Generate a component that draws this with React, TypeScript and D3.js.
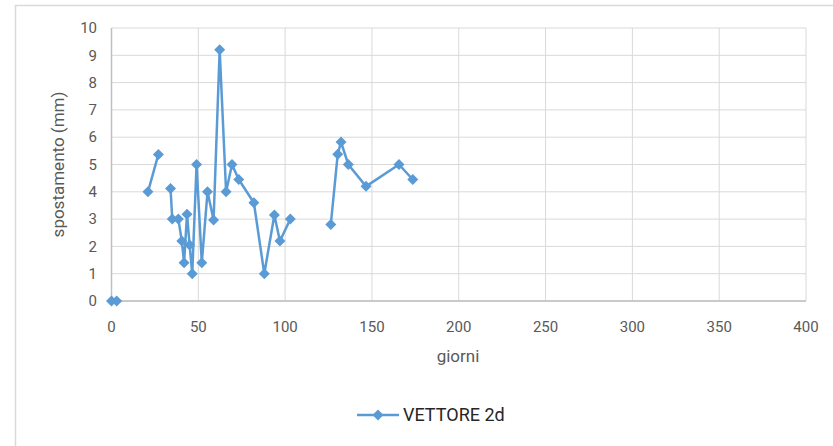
import React from 'react';
import * as d3 from 'd3';

// giorni / spostamento (mm); null = gap in the series
const giorni: (number | null)[] = [0, 3, null, 21, 27, null, 34, 35, 38.5, 40.5, 41.8, 43.5, 45, 46.5, 49, 52, 55.3, 58.8, 62.3, 66, 69.4, 73.3, 82, 88, 93.8, 97, 103, null, 126.3, 130.3, 132.2, 136.4, 146.6, 165.6, 173.5];
const spostamento: (number | null)[] = [0, 0, null, 4, 5.37, null, 4.12, 3, 3, 2.2, 1.4, 3.18, 2.05, 1, 5, 1.4, 4, 2.97, 9.2, 4, 5, 4.45, 3.6, 1, 3.15, 2.2, 3, null, 2.8, 5.38, 5.82, 5, 4.2, 5, 4.45];
const xTicks = [0, 50, 100, 150, 200, 250, 300, 350, 400];
const yTicks = [0, 1, 2, 3, 4, 5, 6, 7, 8, 9, 10];
const seriesName = 'VETTORE 2d';

const W = 833;
const H = 446;
const FONT = 'Roboto, "Liberation Sans", sans-serif';
const BLUE = '#5b9bd5';
const R = 5.5; // marker half-diagonal

export default function App() {
    const x = d3.scaleLinear().domain([0, 400]).range([111.5, 806]);
    const y = d3.scaleLinear().domain([0, 10]).range([301, 28]);

    const pts = giorni.map((g, i) => ({ g, s: spostamento[i] }));
    const line = d3.line<{ g: number | null; s: number | null }>()
        .defined(d => d.g !== null && d.s !== null)
        .x(d => x(d.g as number))
        .y(d => y(d.s as number));

    // square diamond marker, like the spreadsheet's
    const diamond = `M0,${-R}L${R},0L0,${R}L${-R},0Z`;

    return (
        <svg width={W} height={H} style={{ position: 'absolute', left: 0, top: 0, background: '#fff' }}>
            {/* chart border */}
            <path d={`M15.5,${H}V5.5H${W}`} fill="none" stroke="#d9d9d9" strokeWidth={1.5} />

            {/* grid */}
            {yTicks.map(t => (
                <line key={'gy' + t} x1={x(0)} x2={x(400)} y1={y(t)} y2={y(t)} stroke="#d9d9d9" strokeWidth={1} />
            ))}
            {xTicks.map(t => (
                <line key={'gx' + t} x1={x(t)} x2={x(t)} y1={y(0)} y2={y(10)} stroke="#d9d9d9" strokeWidth={1} />
            ))}
            {/* axes */}
            <line x1={x(0)} x2={x(400)} y1={y(0)} y2={y(0)} stroke="#bfbfbf" strokeWidth={1.5} />
            <line x1={x(0)} x2={x(0)} y1={y(0)} y2={y(10)} stroke="#bfbfbf" strokeWidth={1.5} />

            {/* tick labels */}
            {yTicks.map(t => (
                <text key={'ty' + t} x={97} y={y(t)} dy="0.35em" textAnchor="end"
                    fontFamily={FONT} fontSize={15} fill="#595959">{t}</text>
            ))}
            {xTicks.map(t => (
                <text key={'tx' + t} x={x(t)} y={327} dy="0.35em" textAnchor="middle"
                    fontFamily={FONT} fontSize={15} fill="#595959">{t}</text>
            ))}

            {/* axis titles */}
            <text x={458} y={356} dy="0.35em" textAnchor="middle" fontFamily={FONT} fontSize={17} fill="#595959">giorni</text>
            <text transform={`translate(58,${(y(0) + y(10)) / 2}) rotate(-90)`} dy="0.35em" textAnchor="middle"
                fontFamily={FONT} fontSize={17} fill="#595959">spostamento (mm)</text>

            {/* series */}
            <path d={line(pts) || ''} fill="none" stroke={BLUE} strokeWidth={2.5} strokeLinejoin="round" />
            {pts.filter(p => p.g !== null && p.s !== null).map((p, i) => (
                <path key={'m' + i} d={diamond} transform={`translate(${x(p.g as number)},${y(p.s as number)})`} fill={BLUE} />
            ))}

            {/* legend */}
            <line x1={357} x2={399} y1={415} y2={415} stroke={BLUE} strokeWidth={2.5} />
            <path d={diamond} transform="translate(378,415)" fill={BLUE} />
            <text x={403} y={415} dy="0.35em" fontFamily={FONT} fontSize={18} fill="#262626">{seriesName}</text>
        </svg>
    );
}
